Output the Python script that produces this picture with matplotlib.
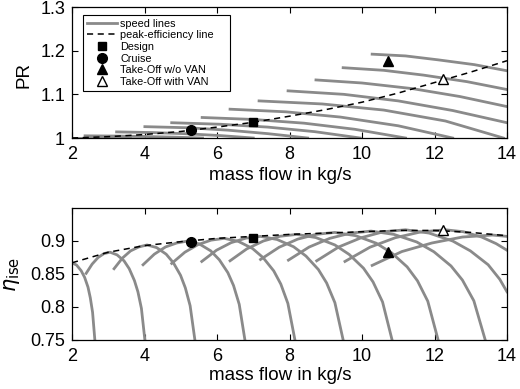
import matplotlib
matplotlib.use('Agg')
import matplotlib.pyplot as plt

plt.rcParams['font.family'] = ['Liberation Sans', 'DejaVu Sans']

# speed lines, pressure ratio over mass flow
pr_lines_m = [
    [2.0, 2.8, 3.6],
    [2.36, 3.2, 4.0, 4.8, 5.6],
    [3.23, 4.2, 5.1, 6.1, 7.0],
    [4.01, 5.2, 6.3, 7.4, 8.5],
    [4.75, 6.1, 7.4, 8.7, 9.95],
    [5.59, 7.0, 8.4, 9.8, 11.2],
    [6.36, 7.9, 9.4, 11.0, 12.5],
    [7.16, 8.9, 10.6, 12.3, 13.9],
    [7.96, 9.5, 11.0, 12.5, 14.0],
    [8.73, 10.0, 11.4, 12.7, 14.0],
    [9.48, 10.6, 11.7, 12.9, 14.0],
    [10.28, 11.2, 12.1, 13.1, 14.0],
]
pr_lines_v = [
    [1.0, 1.0, 1.0],
    [1.005, 1.0045, 1.0035, 1.002, 1.0],
    [1.014, 1.0125, 1.010, 1.0055, 1.0],
    [1.026, 1.0235, 1.018, 1.010, 1.0],
    [1.035, 1.0315, 1.025, 1.0145, 1.0],
    [1.047, 1.0425, 1.034, 1.020, 1.0],
    [1.066, 1.060, 1.048, 1.028, 1.0],
    [1.085, 1.078, 1.064, 1.039, 1.0],
    [1.108, 1.100, 1.085, 1.063, 1.035],
    [1.133, 1.126, 1.113, 1.095, 1.072],
    [1.161, 1.155, 1.144, 1.129, 1.111],
    [1.192, 1.188, 1.179, 1.168, 1.154],
]

# speed lines, isentropic efficiency over mass flow
eta_lines_m = [
    [2.0, 2.126, 2.252, 2.347, 2.441, 2.504, 2.567, 2.63],
    [2.39, 2.555, 2.72, 2.885, 3.05, 3.242, 3.434, 3.578, 3.722, 3.818, 3.914, 4.01],
    [3.16, 3.388, 3.615, 3.843, 4.07, 4.334, 4.598, 4.796, 4.994, 5.126, 5.258, 5.39],
    [3.96, 4.27, 4.58, 4.89, 5.2, 5.514, 5.828, 6.064, 6.299, 6.456, 6.613, 6.77],
    [4.75, 5.113, 5.475, 5.838, 6.2, 6.59, 6.98, 7.273, 7.565, 7.76, 7.955, 8.15],
    [5.58, 5.985, 6.39, 6.795, 7.2, 7.656, 8.112, 8.454, 8.796, 9.024, 9.252, 9.48],
    [6.36, 6.82, 7.28, 7.74, 8.2, 8.726, 9.252, 9.647, 10.041, 10.304, 10.567, 10.83],
    [7.2, 7.713, 8.225, 8.738, 9.25, 9.82, 10.39, 10.818, 11.245, 11.53, 11.815, 12.1],
    [7.97, 8.54, 9.11, 9.68, 10.25, 10.88, 11.51, 11.983, 12.455, 12.77, 13.085, 13.4],
    [8.75, 9.36, 9.98, 10.59, 11.2, 11.85, 12.5, 12.99, 13.48, 13.8, 14.0],
    [9.53, 10.22, 10.92, 11.61, 12.3, 12.8, 13.3, 13.7, 14.0],
    [10.28, 11.1, 11.93, 12.77, 13.6, 14.0],
]
eta_lines_v = [
    [0.867, 0.8635, 0.855, 0.845, 0.830, 0.814, 0.792, 0.75],
    [0.851, 0.865, 0.875, 0.881, 0.883, 0.879, 0.870, 0.858, 0.840, 0.823, 0.798, 0.75],
    [0.858, 0.874, 0.885, 0.891, 0.894, 0.890, 0.880, 0.867, 0.848, 0.829, 0.802, 0.75],
    [0.864, 0.880, 0.891, 0.897, 0.900, 0.8955, 0.885, 0.8715, 0.852, 0.8325, 0.804, 0.75],
    [0.866, 0.883, 0.8945, 0.9013, 0.904, 0.8994, 0.8886, 0.8747, 0.8547, 0.8347, 0.8054, 0.75],
    [0.869, 0.886, 0.8975, 0.9043, 0.907, 0.9023, 0.8913, 0.8772, 0.8568, 0.8364, 0.8065, 0.75],
    [0.870, 0.888, 0.900, 0.9072, 0.910, 0.9052, 0.894, 0.8796, 0.8588, 0.838, 0.8076, 0.75],
    [0.872, 0.8905, 0.9028, 0.9101, 0.913, 0.9081, 0.8967, 0.882, 0.8608, 0.8397, 0.8087, 0.75],
    [0.871, 0.8908, 0.904, 0.9119, 0.915, 0.910, 0.8985, 0.8837, 0.8622, 0.8408, 0.8094, 0.75],
    [0.870, 0.891, 0.905, 0.914, 0.917, 0.912, 0.900, 0.885, 0.864, 0.842, 0.823],
    [0.869, 0.8906, 0.905, 0.9136, 0.917, 0.914, 0.906, 0.896, 0.886],
    [0.863, 0.884, 0.897, 0.906, 0.909, 0.907],
]

# peak-efficiency line
peak_m = [2, 3, 4, 5, 6, 7, 8, 9, 10, 11, 12, 13, 14]
peak_pr = [1.0, 1.003, 1.008, 1.015, 1.025, 1.036, 1.050, 1.065, 1.082, 1.103, 1.127, 1.151, 1.177]
peak_eta = [0.867, 0.883, 0.893, 0.899, 0.904, 0.907, 0.910, 0.912, 0.914, 0.916, 0.916, 0.913, 0.908]

# operating points: design, cruise, take-off w/o VAN, take-off with VAN
op_names = ['Design', 'Cruise', 'Take-Off w/o VAN', 'Take-Off with VAN']
op_m = [6.98, 5.27, 10.73, 12.23]
op_pr = [1.036, 1.018, 1.177, 1.134]
op_eta = [0.905, 0.899, 0.883, 0.916]
op_style = [('s', 'k', 5.5), ('o', 'k', 7), ('^', 'k', 7.5), ('^', 'w', 7.5)]

gray = '#8a8a8a'

fig = plt.figure(figsize=(5.2, 3.89), dpi=100)
ax1 = fig.add_axes([0.1385, 0.6452, 0.8365, 0.3368])
ax2 = fig.add_axes([0.1385, 0.126, 0.8365, 0.3393])

for i in range(len(pr_lines_m)):
    ax1.plot(pr_lines_m[i], pr_lines_v[i], color=gray, lw=2,
             label='speed lines' if i == 0 else None)
ax1.plot(peak_m, peak_pr, 'k--', lw=1.1, dashes=(4, 3), label='peak-efficiency line')
for name, m, v, (mk, fc, ms) in zip(op_names, op_m, op_pr, op_style):
    ax1.plot(m, v, linestyle='none', marker=mk, mfc=fc, mec='k', ms=ms, label=name)

for i in range(len(eta_lines_m)):
    ax2.plot(eta_lines_m[i], eta_lines_v[i], color=gray, lw=2)
ax2.plot(peak_m, peak_eta, 'k--', lw=1.1, dashes=(4, 3))
for m, v, (mk, fc, ms) in zip(op_m, op_eta, op_style):
    ax2.plot(m, v, linestyle='none', marker=mk, mfc=fc, mec='k', ms=ms)

ax1.set_xlim(2, 14)
ax1.set_ylim(1, 1.3)
ax1.set_yticks([1, 1.1, 1.2, 1.3])
ax1.set_yticklabels(['1', '1.1', '1.2', '1.3'])
ax1.set_ylabel('PR', fontsize=13.5)
ax1.yaxis.set_label_coords(-0.09, 0.48)

ax2.set_xlim(2, 14)
ax2.set_ylim(0.75, 0.95)
ax2.set_yticks([0.75, 0.8, 0.85, 0.9])
ax2.set_yticklabels(['0.75', '0.8', '0.85', '0.9'])
ax2.set_ylabel(r'$\eta_{\mathrm{ise}}$', fontsize=15)
ax2.yaxis.set_label_coords(-0.115, 0.5)

for ax in (ax1, ax2):
    ax.set_xticks([2, 4, 6, 8, 10, 12, 14])
    ax.set_xlabel('mass flow in kg/s', fontsize=13.5)
    ax.tick_params(direction='in', top=True, right=True, labelsize=13,
                   length=4, width=0.8)
    ax.tick_params(axis='x', pad=6)
    ax.tick_params(axis='y', pad=5)
    for s in ax.spines.values():
        s.set_linewidth(0.9)
ax1.xaxis.set_label_coords(0.478, -0.225)
ax2.xaxis.set_label_coords(0.478, -0.205)

# trailing spaces widen the box like the original legend
leg = ax1.legend(loc='upper left', bbox_to_anchor=(0.025, 0.94), fontsize=7.8,
                 frameon=True, fancybox=False, edgecolor='k', framealpha=1,
                 borderaxespad=0, handlelength=2.8, handletextpad=0.3,
                 labelspacing=0.15, borderpad=0.35)
leg.get_frame().set_linewidth(0.8)
leg.get_texts()[1].set_text('peak-efficiency line    ')

fig.savefig('out.png', dpi=100)
